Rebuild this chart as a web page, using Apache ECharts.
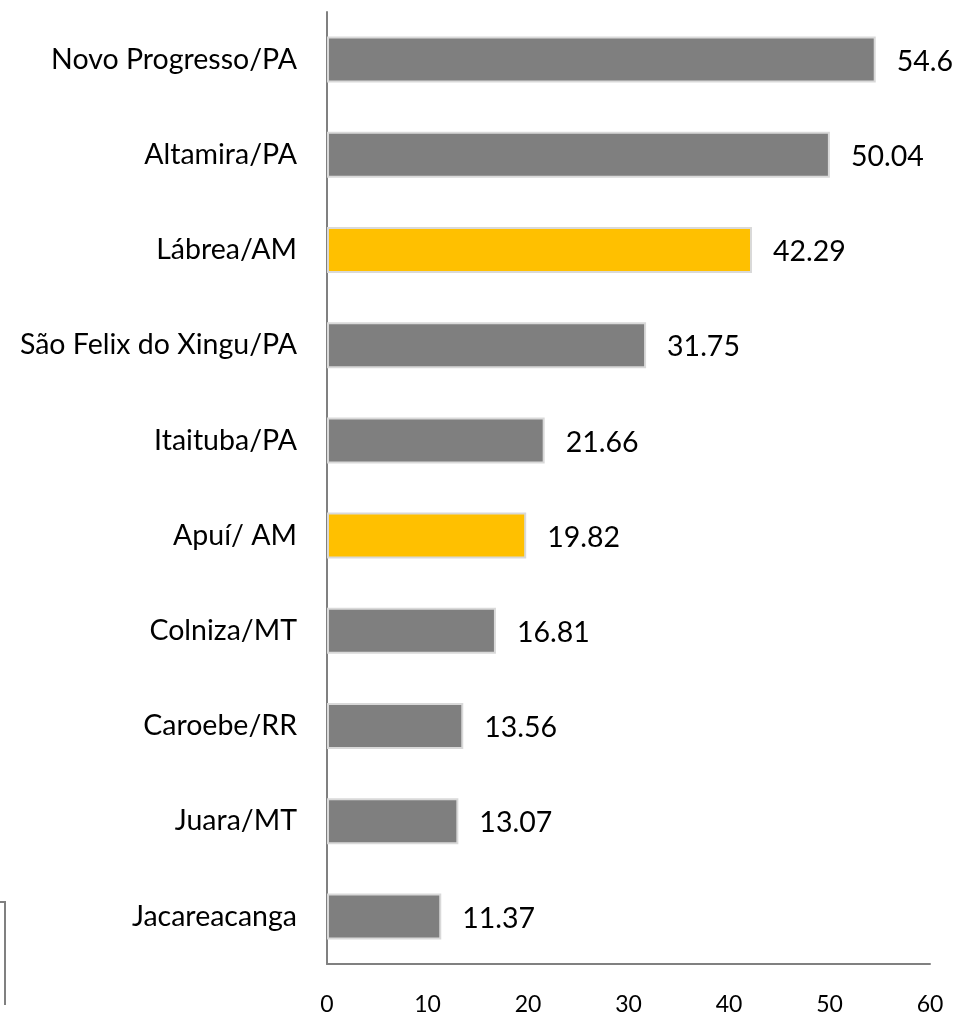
<!DOCTYPE html>
<html><head><meta charset="utf-8">
<script src="https://cdn.jsdelivr.net/npm/echarts@6/dist/echarts.min.js"></script>
<style>html,body{margin:0;padding:0;background:#fff}#c{width:953px;height:1016px}</style>
</head><body><div id="c"></div>
<script>
const categories = ["Novo Progresso/PA","Altamira/PA","Lábrea/AM","São Felix do Xingu/PA","Itaituba/PA","Apuí/ AM","Colniza/MT","Caroebe/RR","Juara/MT","Jacareacanga"];
const values = [54.6, 50.04, 42.29, 31.75, 21.66, 19.82, 16.81, 13.56, 13.07, 11.37];
const highlighted = ["Lábrea/AM","Apuí/ AM"];
const xTicks = [0,10,20,30,40,50,60];

const chart = echarts.init(document.getElementById('c'));
chart.setOption({
  animation:false,
  grid:{left:327,right:23,top:12,bottom:51},
  xAxis:{type:'value',min:0,max:60,interval:10,
    axisLine:{show:true,lineStyle:{color:'#808080',width:2}},
    axisTick:{show:false},splitLine:{show:false},
    axisLabel:{margin:29,fontFamily:'Lato',fontSize:23,color:'#000',
      formatter:v=>xTicks.includes(v)?String(v):''}},
  yAxis:{type:'category',data:categories,inverse:true,
    axisLine:{show:true,lineStyle:{color:'#808080',width:2}},
    axisTick:{show:false},
    axisLabel:{margin:30,fontFamily:'Lato',fontSize:28.5,color:'#000'}},
  series:[{type:'bar',barWidth:46,
    data:values.map((v,i)=>({value:v,itemStyle:{color:highlighted.includes(categories[i])?'#FFC000':'#7F7F7F'}})),
    itemStyle:{borderColor:'#D9D9D9',borderWidth:2},
    label:{show:true,position:'right',distance:21,fontFamily:'Lato',fontSize:28.5,color:'#000',
      offset:[0,2],formatter:p=>String(p.value)}}],
  graphic:[{type:'polyline',shape:{points:[[0,902],[5,902],[5,1005]]},style:{stroke:'#808080',lineWidth:2,fill:null}}]
});
</script></body></html>
